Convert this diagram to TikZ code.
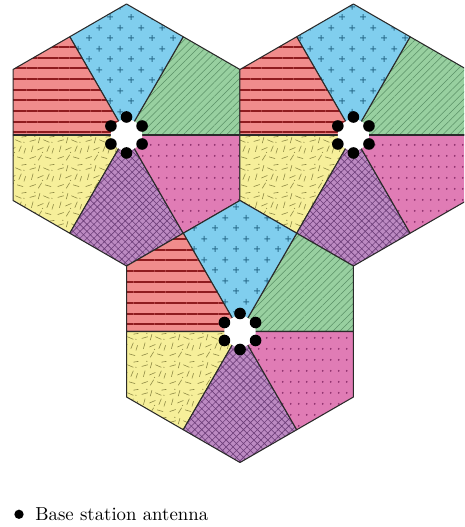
\documentclass[tikz,border=0pt]{standalone}
\usetikzlibrary{patterns.meta}
\definecolor{edgegray}{HTML}{2A2A2A}
\definecolor{sectblue}{HTML}{80CEEE}
\definecolor{sectgreen}{HTML}{98D0A0}
\definecolor{sectred}{HTML}{F08C8C}
\definecolor{sectyellow}{HTML}{F6EF9A}
\definecolor{sectpurple}{HTML}{BC8AC2}
\definecolor{sectpink}{HTML}{E07CB5}
\definecolor{plusink}{HTML}{2D6F8F}
\definecolor{greenink}{HTML}{5A9066}
\definecolor{redink}{HTML}{8E1B1F}
\definecolor{yellowink}{HTML}{8F8A45}
\definecolor{purpleink}{HTML}{6E3F7A}
\definecolor{pinkink}{HTML}{8B2E6A}

% staggered plus signs
\tikzdeclarepattern{
  name=plusgrid, type=uncolored,
  bottom left={(0pt,0pt)}, top right={(12pt,12pt)},
  tile size={(12pt,12pt)},
  code={
    \draw[line width=.55pt] (1.3pt,3pt) -- (4.7pt,3pt) (3pt,1.3pt) -- (3pt,4.7pt)
      (7.3pt,9pt) -- (10.7pt,9pt) (9pt,7.3pt) -- (9pt,10.7pt);
  }}
% rows of small dots
\tikzdeclarepattern{
  name=rowdots, type=uncolored,
  bottom left={(0pt,0pt)}, top right={(4.4pt,6.1pt)},
  tile size={(4.4pt,6.1pt)},
  code={
    \fill (2.2pt,3pt) circle (.55pt);
  }}
% scattered short dashes
\tikzdeclarepattern{
  name=strewn, type=uncolored,
  bottom left={(0pt,0pt)}, top right={(16pt,16pt)},
  tile size={(16pt,16pt)},
  code={
    \draw[line width=.35pt]
      (1pt,2pt) -- (4.5pt,3.2pt)   (6pt,1pt) -- (8pt,4.2pt)
      (10pt,3pt) -- (13.5pt,2pt)   (2pt,6pt) -- (3pt,9.6pt)
      (5.5pt,7pt) -- (9pt,8.5pt)   (11pt,6pt) -- (12.5pt,9.5pt)
      (1pt,12pt) -- (4.5pt,13pt)   (6pt,11pt) -- (7pt,14.5pt)
      (9pt,13pt) -- (12.5pt,11.5pt) (12.5pt,14.5pt) -- (15.5pt,15pt)
      (14pt,5pt) -- (15pt,8pt);
    \fill (8.5pt,5.6pt) circle (.35pt) (14pt,11.5pt) circle (.35pt)
      (4pt,15pt) circle (.35pt);
  }}

\begin{document}
\begin{tikzpicture}[x=0.02cm, y=0.02cm, line join=round,
   sector/.style     = {draw=edgegray, line width=0.6pt},
   midline/.style    = {draw=edgegray, line width=1pt},
   bluesect/.style   = {preaction={fill=sectblue}, pattern=plusgrid, pattern color=plusink},
   greensect/.style  = {preaction={fill=sectgreen},
                        pattern={Lines[angle=45, distance=2.9pt, line width=.3pt]},
                        pattern color=greenink},
   redsect/.style    = {preaction={fill=sectred},
                        pattern={Lines[angle=0, distance=6.07pt, line width=1.1pt]},
                        pattern color=redink},
   yellowsect/.style = {preaction={fill=sectyellow}, pattern=strewn, pattern color=yellowink},
   purplesect/.style = {preaction={fill=sectpurple},
                        pattern={Hatch[angle=45, distance=2.8pt, line width=.35pt]},
                        pattern color=purpleink},
   pinksect/.style   = {preaction={fill=sectpink}, pattern=rowdots, pattern color=pinkink},
   antdot/.style     = {circle, fill=black, inner sep=0pt, minimum size=5.3pt}]
  \useasboundingbox (0,0) rectangle (464,527);
  \clip (0,0) rectangle (464,527);
  \def\rin{113.45}
  \def\rout{131}

  % three cells, six sectors each
  \foreach \cx/\cy in {126.5/392, 353.4/392, 240/195.5} {
    \begin{scope}[shift={(\cx,\cy)}]
      \foreach \a/\kind in {0/greensect, 60/bluesect, 120/redsect,
                            180/yellowsect, 240/purplesect, 300/pinksect}
        \path[sector, \kind] (0,0) -- (\a:\rin) -- (\a+30:\rout) -- (\a+60:\rin) -- cycle;
      \draw[midline] (180:\rin) -- (0:\rin);
      % base station with its antennas
      \fill[white] (90:18) -- (30:18) -- (-30:18) -- (-90:18) -- (-150:18) -- (150:18) -- cycle;
      \foreach \d in {30, 90, ..., 330}
        \fill (\d:18) circle (5.8);
    \end{scope}
  }

  % legend
  \node[antdot] (legdot) at (19,12.7) {};
  \node[anchor=base west, inner sep=0pt, font=\fontsize{10.7}{13}\selectfont]
       (legtext) at (35,7) {Base station antenna};
\end{tikzpicture}
\end{document}
